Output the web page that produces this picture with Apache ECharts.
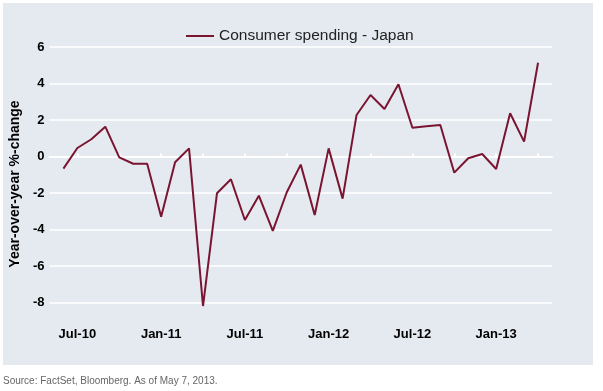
<!DOCTYPE html>
<html>
<head>
<meta charset="utf-8">
<style>
  html, body { margin: 0; padding: 0; background: #ffffff; }
  #chart { width: 603px; height: 391px; }
</style>
<script src="https://cdn.jsdelivr.net/npm/echarts@6/dist/echarts.min.js"></script>
</head>
<body>
<div id="chart"></div>
<script>
// Month categories (as positioned on the reference axis)
var months = [
  'Jun-10','Jul-10','Aug-10','Sep-10','Oct-10','Nov-10','Dec-10',
  'Jan-11','Feb-11','Mar-11','Apr-11','May-11','Jun-11','Jul-11','Aug-11','Sep-11','Oct-11','Nov-11','Dec-11',
  'Jan-12','Feb-12','Mar-12','Apr-12','May-12','Jun-12','Jul-12','Aug-12','Sep-12','Oct-12','Nov-12','Dec-12',
  'Jan-13','Feb-13','Mar-13','Apr-13'
];
// Consumer spending - Japan, year-over-year % change
var spending = [
  -0.66, 0.47, 0.95, 1.64, -0.04, -0.39, -0.39,
  -3.29, -0.31, 0.45, -8.18, -2.01, -1.24, -3.47, -2.14, -4.07, -1.95, -0.44, -3.20,
  0.45, -2.30, 2.28, 3.37, 2.61, 3.96, 1.58, 1.66, 1.73, -0.88, -0.09, 0.14,
  -0.68, 2.37, 0.82, 5.14
];
// Axis padding categories (axis extends one month on each side)
var padBefore = 'May-10';
var padAfter = 'May-13';
var xLabelsShown = ['Jul-10','Jan-11','Jul-11','Jan-12','Jul-12','Jan-13'];
var yTicks = [-8, -6, -4, -2, 0, 2, 4, 6];
var seriesName = 'Consumer spending - Japan';
var yTitle = 'Year-over-year %-change';
var sourceText = 'Source: FactSet, Bloomberg. As of May 7, 2013.';

var axisCats = [padBefore].concat(months, [padAfter]);
var axisData = [null].concat(spending, [null]);

var FONT = '"Liberation Sans", Arial, sans-serif';
var chart = echarts.init(document.getElementById('chart'), null, { renderer: 'canvas' });

chart.setOption({
  animation: false,
  backgroundColor: '#ffffff',
  graphic: [
    { type: 'rect', z: -10, shape: { x: 3, y: 3, width: 590, height: 362 },
      style: { fill: '#e5eaf0' } },
    { type: 'text', left: 3, top: 376,
      style: { text: sourceText, fill: '#666666', fontSize: 10, fontFamily: FONT } }
  ],
  legend: {
    left: 181, top: 23,
    icon: 'rect', itemWidth: 28, itemHeight: 2,
    data: [seriesName],
    textStyle: { fontSize: 15.5, color: '#222222', fontFamily: FONT }
  },
  grid: { left: 44, right: 51, top: 47, bottom: 70, containLabel: false },
  xAxis: {
    type: 'category',
    data: axisCats,
    boundaryGap: false,
    axisLine: { show: true, lineStyle: { color: '#ffffff', width: 2 } },
    axisTick: {
      show: true, inside: true, length: 3,
      lineStyle: { color: '#ffffff', width: 2 },
      interval: function (idx) { return idx % 3 === 2; }
    },
    axisLabel: {
      interval: function (idx, val) { return xLabelsShown.indexOf(val) >= 0; },
      color: '#000000', fontWeight: 'bold', fontSize: 13, fontFamily: FONT, margin: 7
    },
    splitLine: { show: false }
  },
  yAxis: {
    type: 'value',
    min: -9, max: 6, interval: 1,
    name: yTitle,
    nameLocation: 'middle',
    nameRotate: 90,
    nameGap: 24,
    nameTextStyle: { color: '#000000', fontWeight: 'bold', fontSize: 14, fontFamily: FONT },
    axisLine: { show: false },
    axisTick: { show: false },
    axisLabel: {
      color: '#000000', fontWeight: 'bold', fontSize: 13, fontFamily: FONT, margin: 5,
      formatter: function (v) { return yTicks.indexOf(v) >= 0 ? String(v) : ''; }
    },
    splitLine: { show: true, lineStyle: { color: ['rgba(0,0,0,0)', '#ffffff'], width: 1.5 } }
  },
  series: [{
    name: seriesName,
    type: 'line',
    data: axisData,
    showSymbol: false,
    symbol: 'none',
    connectNulls: false,
    lineStyle: { color: '#7a1430', width: 2 },
    itemStyle: { color: '#7a1430' }
  }]
});
</script>
</body>
</html>
